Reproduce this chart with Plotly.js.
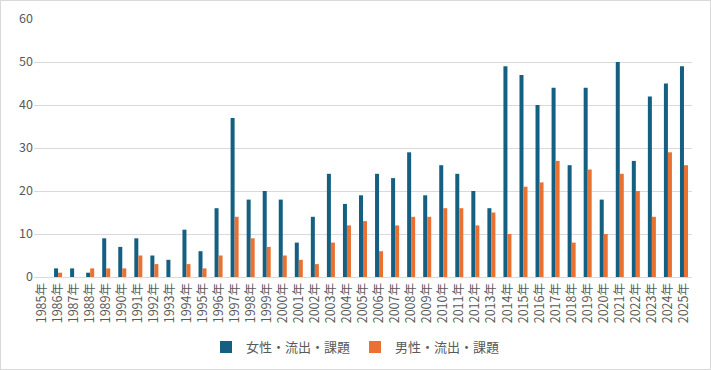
<!DOCTYPE html>
<html>
<head>
<meta charset="utf-8">
<script src="https://cdn.plot.ly/plotly-3.0.1.min.js"></script>
<style>
html,body{margin:0;padding:0;background:#fff;}
#wrap{position:relative;width:711px;height:370px;}
#chart{width:711px;height:370px;}
#frame{position:absolute;left:0;top:0;width:709px;height:368px;border:1px solid #D9D9D9;pointer-events:none;}
</style>
</head>
<body>
<div id="wrap"><div id="chart"></div><div id="frame"></div></div>
<script>
const years = ["1985年","1986年","1987年","1988年","1989年","1990年","1991年","1992年","1993年","1994年","1995年","1996年","1997年","1998年","1999年","2000年","2001年","2002年","2003年","2004年","2005年","2006年","2007年","2008年","2009年","2010年","2011年","2012年","2013年","2014年","2015年","2016年","2017年","2018年","2019年","2020年","2021年","2022年","2023年","2024年","2025年"];
const female = [0,2,2,1,9,7,9,5,4,11,6,16,37,18,20,18,8,14,24,17,19,24,23,29,19,26,24,20,16,49,47,40,44,26,44,18,50,27,42,45,49];
const male = [0,1,0,2,2,2,5,3,0,3,2,5,14,9,7,5,4,3,8,12,13,6,12,14,14,16,16,12,15,10,21,22,27,8,25,10,24,20,14,29,26];
const seriesNames = ["女性・流出・課題","男性・流出・課題"];

const font = "'Noto Sans CJK JP', 'Noto Sans', sans-serif";
const traces = [
  {type:"bar", x:years, y:female, name:seriesNames[0], marker:{color:"#156082"}},
  {type:"bar", x:years, y:male, name:seriesNames[1], marker:{color:"#E97132"}}
];
const layout = {
  width:711, height:370,
  margin:{l:34, r:19, t:19, b:93},
  paper_bgcolor:"#fff", plot_bgcolor:"#fff",
  font:{family:font, color:"#595959", size:12},
  barmode:"group", bargap:0.5, bargroupgap:0,
  showlegend:true,
  legend:{orientation:"h", x:0.5, xanchor:"center", xref:"container", y:0.062, yref:"container", yanchor:"middle", font:{size:13, color:"#595959"}, itemwidth:30, traceorder:"normal"},
  xaxis:{type:"category", tickangle:-90, tickfont:{size:12.5, color:"#595959"}, showgrid:false, showline:true, linecolor:"#D9D9D9", linewidth:1, ticks:"", automargin:false},
  yaxis:{range:[0,60], dtick:10, tickfont:{size:12.5, color:"#595959"}, showgrid:true, gridcolor:"#D9D9D9", gridwidth:1, zeroline:false, showline:false, ticks:"", automargin:false, fixedrange:true}
};
Plotly.newPlot("chart", traces, layout, {staticPlot:true, displayModeBar:false});
</script>
</body>
</html>
